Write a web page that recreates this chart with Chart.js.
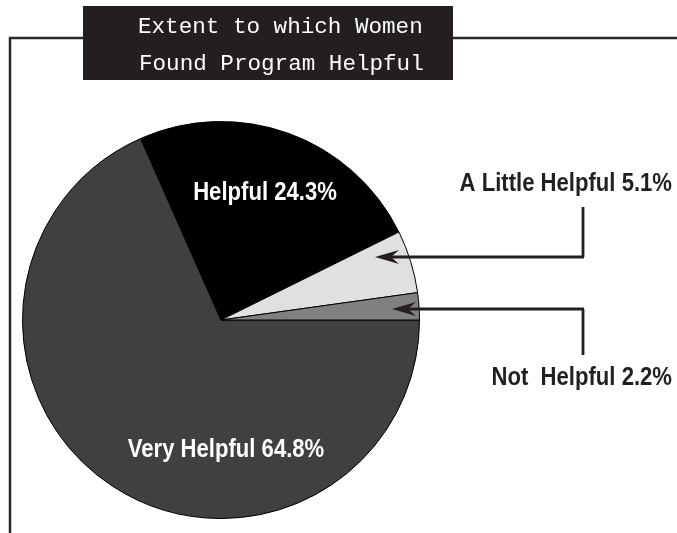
<!DOCTYPE html>
<html>
<head>
<meta charset="utf-8">
<script src="https://cdn.jsdelivr.net/npm/chart.js@4"></script>
<style>
  html, body { margin: 0; padding: 0; background: #fff; }
  #wrap { width: 677px; height: 533px; }
</style>
</head>
<body>
<div id="wrap"><canvas id="pie" width="677" height="533"></canvas></div>
<script>
// data, clockwise from 3 o'clock
const categories = ["Very Helpful", "Helpful", "A Little Helpful", "Not Helpful"];
const sliceValues = [68.3, 24.3, 5.1, 2.2]; // slice sizes as drawn
const labelTexts = ["Very Helpful 64.8%", "Helpful 24.3%", "A Little Helpful 5.1%", "Not  Helpful 2.2%"];
const sliceColors = ["#404040", "#000000", "#e0e0e0", "#808080"];
const titleLines = ["Extent to which Women", "Found Program Helpful"];

const LABEL_FONT = "bold 26px 'Liberation Sans', Arial, sans-serif";
const SQUEEZE = 0.85; // fake a condensed face

// draw text squeezed horizontally; align is 'center' or 'right'
function narrowText(ctx, text, x, y, align) {
  ctx.save();
  ctx.translate(x, y);
  ctx.scale(SQUEEZE, 1);
  ctx.textAlign = align;
  ctx.fillText(text, 0, 0);
  ctx.restore();
}

function arrow(ctx, x0, y0, x1, y1) {
  // head at (x1, y1), pointing left
  ctx.beginPath();
  ctx.moveTo(x0, y0);
  ctx.lineTo(x1 + 16, y1);
  ctx.stroke();
  ctx.beginPath();
  ctx.moveTo(x1, y1);
  ctx.lineTo(x1 + 24, y1 - 7);
  ctx.lineTo(x1 + 16, y1);
  ctx.lineTo(x1 + 24, y1 + 7);
  ctx.closePath();
  ctx.fill();
}

const decorPlugin = {
  id: "decor",
  beforeDraw(chart) {
    const ctx = chart.ctx;
    ctx.save();
    // frame lines
    ctx.strokeStyle = "#2a2a2a";
    ctx.lineWidth = 2.5;
    ctx.beginPath();
    ctx.moveTo(10, 533);
    ctx.lineTo(10, 38);
    ctx.lineTo(677, 38);
    ctx.stroke();
    // title box
    ctx.fillStyle = "#231f20";
    ctx.fillRect(83, 6, 370, 74);
    ctx.fillStyle = "#ffffff";
    ctx.font = "22.6px 'Courier New', Courier, 'Nimbus Mono PS', 'Liberation Mono', monospace";
    ctx.textBaseline = "alphabetic";
    ctx.textAlign = "left";
    ctx.fillText(titleLines[0], 138, 33);
    ctx.fillText(titleLines[1], 139, 70);
    ctx.restore();
  },
  afterDraw(chart) {
    const ctx = chart.ctx;
    const arc = chart.getDatasetMeta(0).data[0];
    const cx = arc.x, cy = arc.y;
    ctx.save();
    ctx.font = LABEL_FONT;
    ctx.textBaseline = "alphabetic";
    // labels inside slices
    ctx.fillStyle = "#ffffff";
    narrowText(ctx, labelTexts[0], cx + 5, cy + 137, "center");
    narrowText(ctx, labelTexts[1], cx + 44, cy - 120, "center");
    // labels outside with arrows
    ctx.fillStyle = "#231f20";
    narrowText(ctx, labelTexts[2], 672, 191, "right");
    narrowText(ctx, labelTexts[3], 672, 385, "right");
    ctx.strokeStyle = "#231f20";
    ctx.lineWidth = 2.8;
    ctx.beginPath();
    ctx.moveTo(583, 207);
    ctx.lineTo(583, 257);
    ctx.stroke();
    arrow(ctx, 584, 257, cx + 154, 257);
    ctx.beginPath();
    ctx.moveTo(583, 355);
    ctx.lineTo(583, 309);
    ctx.stroke();
    arrow(ctx, 584, 309, cx + 171, 309);
    ctx.restore();
  }
};

new Chart(document.getElementById("pie"), {
  type: "pie",
  data: {
    labels: categories,
    datasets: [{
      data: sliceValues,
      backgroundColor: sliceColors,
      borderColor: "#000000",
      borderWidth: 1
    }]
  },
  options: {
    responsive: false,
    animation: false,
    rotation: 90,
    layout: { padding: { left: 22, right: 257, top: 121, bottom: 14 } },
    plugins: {
      legend: { display: false },
      tooltip: { enabled: false },
      title: { display: false }
    }
  },
  plugins: [decorPlugin]
});
</script>
</body>
</html>
